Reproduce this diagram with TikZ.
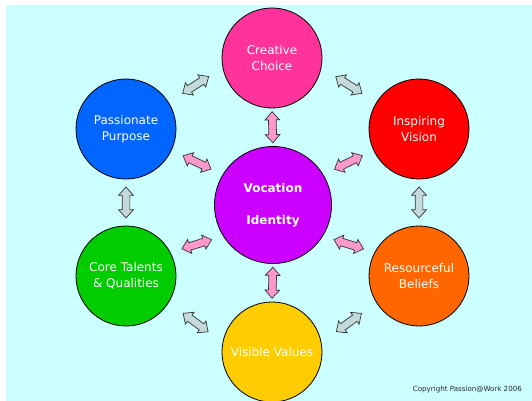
\documentclass[tikz,border=0pt]{standalone}
\usepackage{fontspec}
\setmainfont{DejaVu Sans}
\usetikzlibrary{shapes.arrows}
\definecolor{bgc}{RGB}{204,255,255}
\definecolor{ccol}{RGB}{255,51,153}
\definecolor{pcol}{RGB}{0,102,255}
\definecolor{icol}{RGB}{255,0,0}
\definecolor{vcol}{RGB}{204,0,255}
\definecolor{tcol}{RGB}{0,204,0}
\definecolor{rcol}{RGB}{255,102,0}
\definecolor{vvcol}{RGB}{255,204,0}
\definecolor{grayarrow}{RGB}{196,218,218}
\definecolor{pinkarrow}{RGB}{255,153,204}
\definecolor{arrowline}{RGB}{50,50,50}
\definecolor{copyc}{RGB}{40,40,40}
\tikzset{
  bubble/.style={circle, draw=black, line width=0.8pt, minimum size=100pt, inner sep=0pt,
    text=white, align=center, font=\fontsize{12}{16}\selectfont},
  blockarrow/.style={double arrow, draw=arrowline, line width=0.7pt, inner sep=3.5pt,
    minimum height=31pt, minimum width=0pt, double arrow head extend=3.5pt,
    double arrow tip angle=84, sloped},
  garrow/.style={blockarrow, fill=grayarrow},
  parrow/.style={blockarrow, fill=pinkarrow}
}
\begin{document}
\begin{tikzpicture}[x=1pt,y=-1pt]
\useasboundingbox (0,0) rectangle (532,401);
\clip (0,0) rectangle (532,401);
\fill[white] (0,0) rectangle (532,401);
\fill[bgc] (6,5) rectangle (532,401);

\node[bubble, fill=ccol] (cc) at (272,58) {\raisebox{-1.5pt}{\parbox{90pt}{\centering Creative\\Choice}}};
\node[bubble, fill=pcol] (pp) at (126,129) {Passionate\\Purpose};
\node[bubble, fill=icol] (iv) at (419,129) {Inspiring\\Vision};
\node[bubble, fill=vcol, minimum size=117pt, font=\bfseries\fontsize{12}{16}\selectfont] (vi) at (273,205) {Vocation\\[16pt]Identity};
\node[bubble, fill=tcol] (ct) at (126,276) {Core Talents\\\& Qualities};
\node[bubble, fill=rcol] (rb) at (419,276) {Resourceful\\Beliefs};
\node[bubble, fill=vvcol] (vv) at (272,352) {Visible Values};

% outer ring
\path (cc.191) -- node[garrow] {} (pp.32);
\path (cc.349) -- node[garrow] {} (iv.148);
\path (pp.south) -- node[garrow] {} (ct.north);
\path (iv.south) -- node[garrow] {} (rb.north);
\path (ct.328) -- node[garrow] {} (vv.169);
\path (rb.212) -- node[garrow] {} (vv.11);

% spokes
\path (cc.south) -- node[parrow] {} (vi.north);
\path (pp.335) -- node[parrow] {} (vi.149);
\path (iv.205) -- node[parrow] {} (vi.31);
\path (vi.212) -- node[parrow] {} (ct.28);
\path (vi.328) -- node[parrow] {} (rb.152);
\path (vi.south) -- node[parrow] {} (vv.north);

\node[anchor=east, inner sep=0pt, text=copyc, font=\fontsize{7.1}{8}\selectfont] (copy) at (522,390) {Copyright Passion@Work 2006};
\end{tikzpicture}
\end{document}
